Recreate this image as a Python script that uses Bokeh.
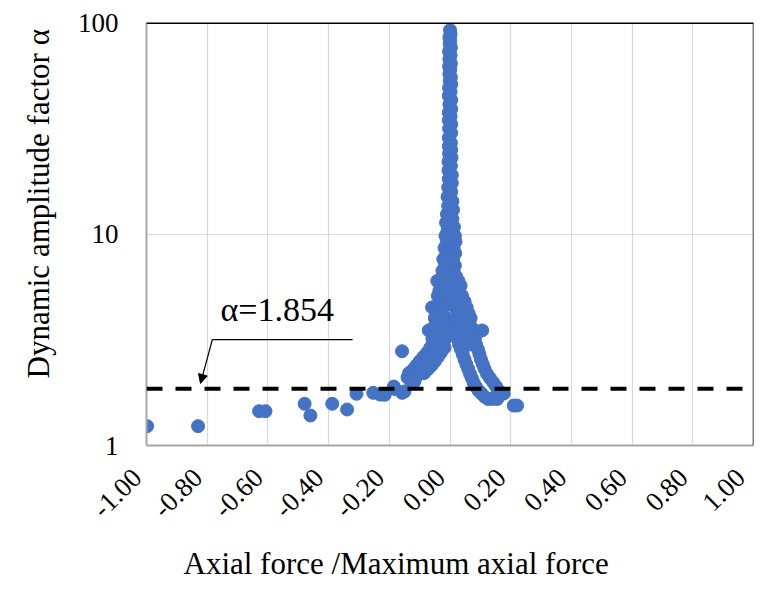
import numpy as np
from bokeh.plotting import figure
from bokeh.models import (Range1d, FixedTicker, PrintfTickFormatter, Span, Label,
                          Arrow, NormalHead, Title, ColumnDataSource)
from bokeh.embed import file_html
from bokeh.resources import INLINE

# ---------------- data ----------------
x_ticks = [-1.0, -0.8, -0.6, -0.4, -0.2, 0.0, 0.2, 0.4, 0.6, 0.8, 1.0]
x_tick_labels = ["-1.00", "-0.80", "-0.60", "-0.40", "-0.20", "0.00",
                 "0.20", "0.40", "0.60", "0.80", "1.00"]
y_ticks = [1, 10, 100]
alpha_ref = 1.854
x_title = "Axial force /Maximum axial force"
y_title = "Dynamic amplitude factor α"
note_text = "α=1.854"

spike_a = [92, 88, 85, 82, 79, 76, 73, 70, 67, 64, 62, 60, 57, 55, 53, 51, 49, 47, 45, 43,
           41, 39, 37.5, 36, 34.5, 33, 31.5, 30, 28.5, 27, 26, 25, 24, 23, 22, 21, 20, 19,
           18.2, 17.4, 16.6, 15.8, 15, 14.3, 13.6, 13, 12.4, 11.8, 11.3, 10.8, 10.4, 10]
spike_x = [0.000, 0.002, -0.002, 0.001, -0.001, 0.003, -0.003, 0.002, -0.002, 0.003,
           -0.003, 0.001, -0.002, 0.003, -0.001, 0.004, -0.003, 0.002, -0.004, 0.004,
           -0.002, 0.004, -0.004, 0.002, -0.004, 0.004, -0.003, 0.004, -0.004, 0.003,
           -0.004, 0.004, -0.003, 0.005, -0.005, 0.003, -0.005, 0.006, -0.004, 0.006,
           -0.006, 0.004, -0.008, 0.008, -0.006, 0.010, -0.010, 0.008, -0.013, 0.013,
           -0.008, 0.010]

core_a = [9.8, 9.8, 9.8, 9.2, 9.2, 9.2, 8.6, 8.6, 8.6, 8.1, 8.1, 8.1, 7.6, 7.6, 7.6,
          7.1, 7.1, 7.1, 6.7, 6.7, 6.7, 6.3, 6.3, 6.3, 6.0, 6.0, 6.0, 6.0, 6.0,
          5.7, 5.7, 5.7, 5.7, 5.4, 5.4, 5.4, 5.4, 5.1, 5.1, 5.1, 5.1, 5.1,
          4.8, 4.8, 4.8, 4.8, 4.8, 4.5, 4.5, 4.5, 4.5, 4.5, 4.5]
core_x = [-0.015, 0.000, 0.016, -0.010, 0.008, 0.018, -0.018, -0.002, 0.012,
          -0.012, 0.006, 0.017, -0.022, -0.006, 0.010, -0.016, 0.002, 0.016,
          -0.025, -0.008, 0.012, -0.018, 0.004, 0.020, -0.042, -0.028, -0.010, 0.010, 0.028,
          -0.020, 0.000, 0.022, 0.035, -0.035, -0.015, 0.008, 0.030,
          -0.040, -0.022, 0.002, 0.020, 0.040, -0.030, -0.010, 0.012, 0.032, 0.048,
          -0.059, -0.042, -0.020, 0.018, 0.040, 0.055]

left_a = [4.2, 4.2, 4.0, 4.0, 4.0, 3.8, 3.8, 3.6, 3.6, 3.6, 3.5, 3.4, 3.4,
          3.2, 3.2, 3.2, 3.05, 3.05, 2.9, 2.9, 2.9, 2.75, 2.75, 2.75,
          2.62, 2.62, 2.62, 2.5, 2.5, 2.5, 2.4, 2.4, 2.4, 2.3, 2.3, 2.3,
          2.2, 2.2, 2.2, 2.1, 2.1, 2.0, 2.0, 2.79]
left_x = [-0.045, -0.025, -0.050, -0.030, -0.012, -0.040, -0.018, -0.055, -0.030, -0.010,
          -0.070, -0.045, -0.022, -0.058, -0.035, -0.015, -0.045, -0.025,
          -0.065, -0.040, -0.018, -0.075, -0.052, -0.030, -0.088, -0.062, -0.040,
          -0.100, -0.075, -0.050, -0.110, -0.085, -0.060, -0.120, -0.095, -0.072,
          -0.135, -0.105, -0.085, -0.140, -0.112, -0.128, -0.118, -0.158]

right_a = [4.2, 4.2, 4.2, 4.0, 4.0, 4.0, 3.8, 3.8, 3.6, 3.6, 3.6, 3.4, 3.4, 3.4,
           3.2, 3.2, 3.2, 3.0, 3.0, 3.0, 2.85, 2.85, 2.7, 2.7, 2.55, 2.55, 2.42, 2.42,
           2.3, 2.3, 2.18, 2.18, 2.08, 2.08, 1.98, 1.98, 1.9, 1.9, 1.82, 1.82,
           1.76, 1.76, 1.76, 1.7, 1.7, 1.66, 1.66, 1.66, 1.545, 1.545, 3.5]
right_x = [0.025, 0.045, 0.062, 0.015, 0.035, 0.068, 0.022, 0.050, 0.015, 0.035, 0.072,
           0.020, 0.045, 0.078, 0.025, 0.055, 0.082, 0.030, 0.062, 0.086, 0.036, 0.092,
           0.042, 0.097, 0.048, 0.102, 0.054, 0.108, 0.060, 0.114, 0.066, 0.122,
           0.072, 0.132, 0.078, 0.143, 0.085, 0.152, 0.094, 0.160, 0.104, 0.170, 0.177,
           0.114, 0.150, 0.125, 0.140, 0.156, 0.210, 0.221, 0.106]

tail_x = [-0.998, -0.830, -0.629, -0.608, -0.479, -0.460, -0.388, -0.339, -0.308,
          -0.253, -0.230, -0.215, -0.182, -0.185, -0.158, -0.150]
tail_a = [1.234, 1.234, 1.453, 1.453, 1.575, 1.386, 1.575, 1.48, 1.756,
          1.775, 1.74, 1.737, 1.85, 1.90, 1.775, 1.80]

all_x = spike_x + core_x + left_x + right_x + tail_x
all_a = spike_a + core_a + left_a + right_a + tail_a

FONT = "Liberation Serif"
NBSP2 = "\u00a0\u00a0"   # pushes the rotated labels down-left, as in the reference

p = figure(width=760, height=589, y_axis_type="log",
           x_range=Range1d(-1, 1), y_range=Range1d(1, 100),
           output_backend="svg", toolbar_location=None,
           min_border_left=146, min_border_right=7,
           min_border_top=22, min_border_bottom=144)
p.outline_line_color = None
p.background_fill_color = "white"
p.border_fill_color = "white"

# grid
p.xgrid.ticker = FixedTicker(ticks=x_ticks)
p.ygrid.ticker = FixedTicker(ticks=y_ticks)
p.xgrid.grid_line_color = "#D9D9D9"
p.ygrid.grid_line_color = "#D9D9D9"
p.xgrid.grid_line_width = 1.2
p.ygrid.grid_line_width = 1.2

# axes
xa = p.xaxis[0]
xa.ticker = FixedTicker(ticks=x_ticks)
xa.major_label_overrides = {t: lab + NBSP2 for t, lab in zip(x_ticks, x_tick_labels)}
xa.major_label_orientation = np.pi / 4
xa.major_label_text_font = FONT
xa.major_label_text_font_size = "27px"
xa.major_label_text_color = "black"
xa.major_tick_line_color = None
xa.major_tick_out = 0
xa.minor_tick_line_color = None
xa.minor_tick_out = 0
xa.axis_line_color = "#A6A6A6"
xa.axis_line_width = 2
xa.major_label_standoff = 18

ya = p.yaxis[0]
ya.ticker = FixedTicker(ticks=y_ticks)
ya.formatter = PrintfTickFormatter(format="%d")
ya.major_label_text_font = FONT
ya.major_label_text_font_size = "27px"
ya.major_label_text_color = "black"
ya.major_tick_line_color = None
ya.major_tick_out = 0
ya.minor_tick_line_color = None
ya.minor_tick_out = 0
ya.axis_line_color = "#A6A6A6"
ya.axis_line_width = 2
ya.major_label_standoff = 28

# top / right frame lines
p.add_layout(Span(location=100, dimension="width", line_color="black", line_width=3))
p.add_layout(Span(location=1, dimension="height", line_color="black", line_width=1.5))

# axis titles
p.add_layout(Title(text=x_title, align="left", offset=37,
                   text_font=FONT, text_font_size="31px", text_font_style="normal",
                   text_color="black", standoff=13), "below")
p.add_layout(Title(text=y_title, align="left", offset=67,
                   text_font=FONT, text_font_size="31px", text_font_style="normal",
                   text_color="black", standoff=37), "left")

# reference dashed line
p.add_layout(Span(location=alpha_ref, dimension="width", line_color="black",
                  line_width=4, line_dash="16 13"))

# data
src = ColumnDataSource(dict(x=all_x, a=all_a))
p.scatter("x", "a", source=src, size=13, fill_color="#4472C4", line_color="#4472C4")

# annotation
p.add_layout(Label(x=-0.756, y=4.40, text=note_text, text_font=FONT,
                   text_font_size="34px", text_color="black", text_baseline="alphabetic"))
p.line([-0.321, -0.783], [3.17, 3.17], line_color="black", line_width=1.2)
p.add_layout(Arrow(x_start=-0.783, y_start=3.17, x_end=-0.822, y_end=1.965,
                   line_color="black", line_width=1.2,
                   end=NormalHead(size=9, fill_color="black", line_color="black")))

open("out.html", "w").write(file_html(p, INLINE))
